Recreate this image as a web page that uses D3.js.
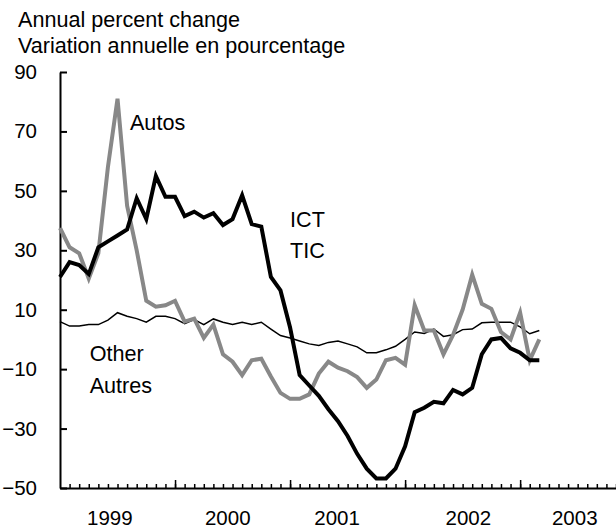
<!DOCTYPE html>
<html>
<head>
<meta charset="utf-8">
<script src="https://cdnjs.cloudflare.com/ajax/libs/d3/7.8.5/d3.min.js"></script>
<style>
  body { margin: 0; background: #fff; }
  svg { display: block; }
  text { font-family: "Liberation Sans", Arial, sans-serif; fill: #000; }
</style>
</head>
<body>
<div class="chart"></div>
<script>
// Monthly annual % change, Jan 1999 .. Mar 2003 (month 0 = Jan 1999)
const MONTHS = d3.range(0, 51)

const ICT = [21, 26, 25, 22, 31, 33, 35, 37, 47.5, 40.5,
    55, 48, 48, 41.5, 43, 41, 42.5, 38.5, 40.5, 48.5,
    38.8, 38, 21, 16.5, 4, -12, -15.5, -19, -23.5, -27.5,
    -32.5, -38.5, -43.5, -46.8, -46.8, -43.5, -36, -24.5, -23, -21,
    -21.5, -17, -18.5, -16.3, -5, 0, 0.5, -3, -4.5, -7, -7]

const AUTOS = [37.5, 31, 29, 20.5, 29, 58, 81, 45, 30, 13,
    11, 11.5, 13, 6, 7, 0.5, 5, -5, -7.5, -12,
    -7, -6.5, -12.5, -18, -20, -20, -18.5, -11.5, -7.5, -9.5,
    -10.7, -12.7, -16.3, -13.5, -7, -6.2, -8.5, 11.5, 3, 3,
    -5, 1.5, 10, 21.8, 12, 10.3, 2.5, 0, 9, -7, 0]

const OTHER = [6, 4.5, 4.5, 5, 5, 6.5, 9, 7.8, 7, 5.8,
    7.8, 7.8, 7, 5.3, 6.7, 5, 6.9, 5.8, 5, 5.8,
    5, 5.8, 3.5, 1.3, 0.5, -0.5, -1.5, -2, -1, -0.5,
    -1.5, -2.5, -4.5, -4.5, -3.5, -2.3, 0, 2.5, 2, 3.5,
    1, 1.6, 3.3, 3.5, 5.6, 5.8, 5.8, 5.8, 4.2, 1.9, 3]

const Y_TICKS = [90, 70, 50, 30, 10, -10, -30, -50]
const YEARS = ['1999', '2000', '2001', '2002', '2003']
const YEAR_LABEL_AT = [5.2, 17.5, 28.9, 42.6, 53.7] // month position of each year label
const YEAR_STARTS = [12, 24, 36, 48]

const SERIES_LABELS = [
    { text: 'Autos', m: 7.3, v: 70.5 },
    { text: 'ICT', m: 24, v: 38 },
    { text: 'TIC', m: 24, v: 27.4 },
    { text: 'Other', m: 3.1, v: -7.3 },
    { text: 'Autres', m: 3.1, v: -18 },
]

var svg = d3.select('.chart')
    .append('svg')
    .attr('width', 616)
    .attr('height', 530)

svg.append('text')
    .attr('x', 18)
    .attr('y', 27)
    .attr('font-size', '21.6px')
    .text('Annual percent change')

svg.append('text')
    .attr('x', 18)
    .attr('y', 53)
    .attr('font-size', '21.6px')
    .text('Variation annuelle en pourcentage')

var xScale = d3.scaleLinear().domain([0, 58]).range([60, 616])
var yScale = d3.scaleLinear().domain([-50, 90]).range([488, 72])

// Y axis, ticks pointing inward
var yAxis = svg.append('g')
    .attr('transform', `translate(${xScale(0)}, 0)`)
    .call(d3.axisLeft(yScale).tickValues(Y_TICKS).tickSize(-7).tickSizeOuter(0).tickPadding(23))
yAxis.select('.domain').attr('stroke-width', 2)
yAxis.selectAll('.tick line').attr('stroke-width', 2)
yAxis.selectAll('.tick text')
    .attr('font-size', '20.5px')
    .attr('font-family', '"Liberation Sans", Arial, sans-serif')

// X axis: month ticks + taller year ticks
var xAxis = svg.append('g')
    .attr('transform', `translate(0, ${yScale(-50)})`)
    .call(d3.axisBottom(xScale).tickValues(d3.range(1, 59)).tickSize(-4).tickSizeOuter(0).tickFormat(''))
xAxis.select('.domain').attr('stroke-width', 2)
xAxis.selectAll('.tick line').attr('stroke-width', 1.5)

var yearTicks = svg.append('g')
    .attr('transform', `translate(0, ${yScale(-50)})`)
    .call(d3.axisBottom(xScale).tickValues(YEAR_STARTS).tickSize(-8).tickSizeOuter(0).tickFormat(''))
yearTicks.select('.domain').remove()
yearTicks.selectAll('.tick line').attr('stroke-width', 1.5)

svg.selectAll('.year')
    .data(YEARS)
    .enter()
    .append('text')
    .attr('class', 'year')
    .attr('x', (d, i) => xScale(YEAR_LABEL_AT[i]))
    .attr('y', 525)
    .attr('text-anchor', 'middle')
    .attr('font-size', '20.5px')
    .text(d => d)

var line = values => d3.line()
    .x((d, i) => xScale(MONTHS[i]))
    .y(d => yScale(d))(values)

svg.append('path')
    .attr('d', line(OTHER))
    .attr('fill', 'none')
    .attr('stroke', '#000')
    .attr('stroke-width', 1.5)

svg.append('path')
    .attr('d', line(AUTOS))
    .attr('fill', 'none')
    .attr('stroke', '#888')
    .attr('stroke-width', 4)
    .attr('stroke-linejoin', 'miter')

svg.append('path')
    .attr('d', line(ICT))
    .attr('fill', 'none')
    .attr('stroke', '#000')
    .attr('stroke-width', 4)
    .attr('stroke-linejoin', 'miter')

svg.selectAll('.series-label')
    .data(SERIES_LABELS)
    .enter()
    .append('text')
    .attr('class', 'series-label')
    .attr('x', d => xScale(d.m))
    .attr('y', d => yScale(d.v))
    .attr('font-size', '21.6px')
    .text(d => d.text)
</script>
</body>
</html>
